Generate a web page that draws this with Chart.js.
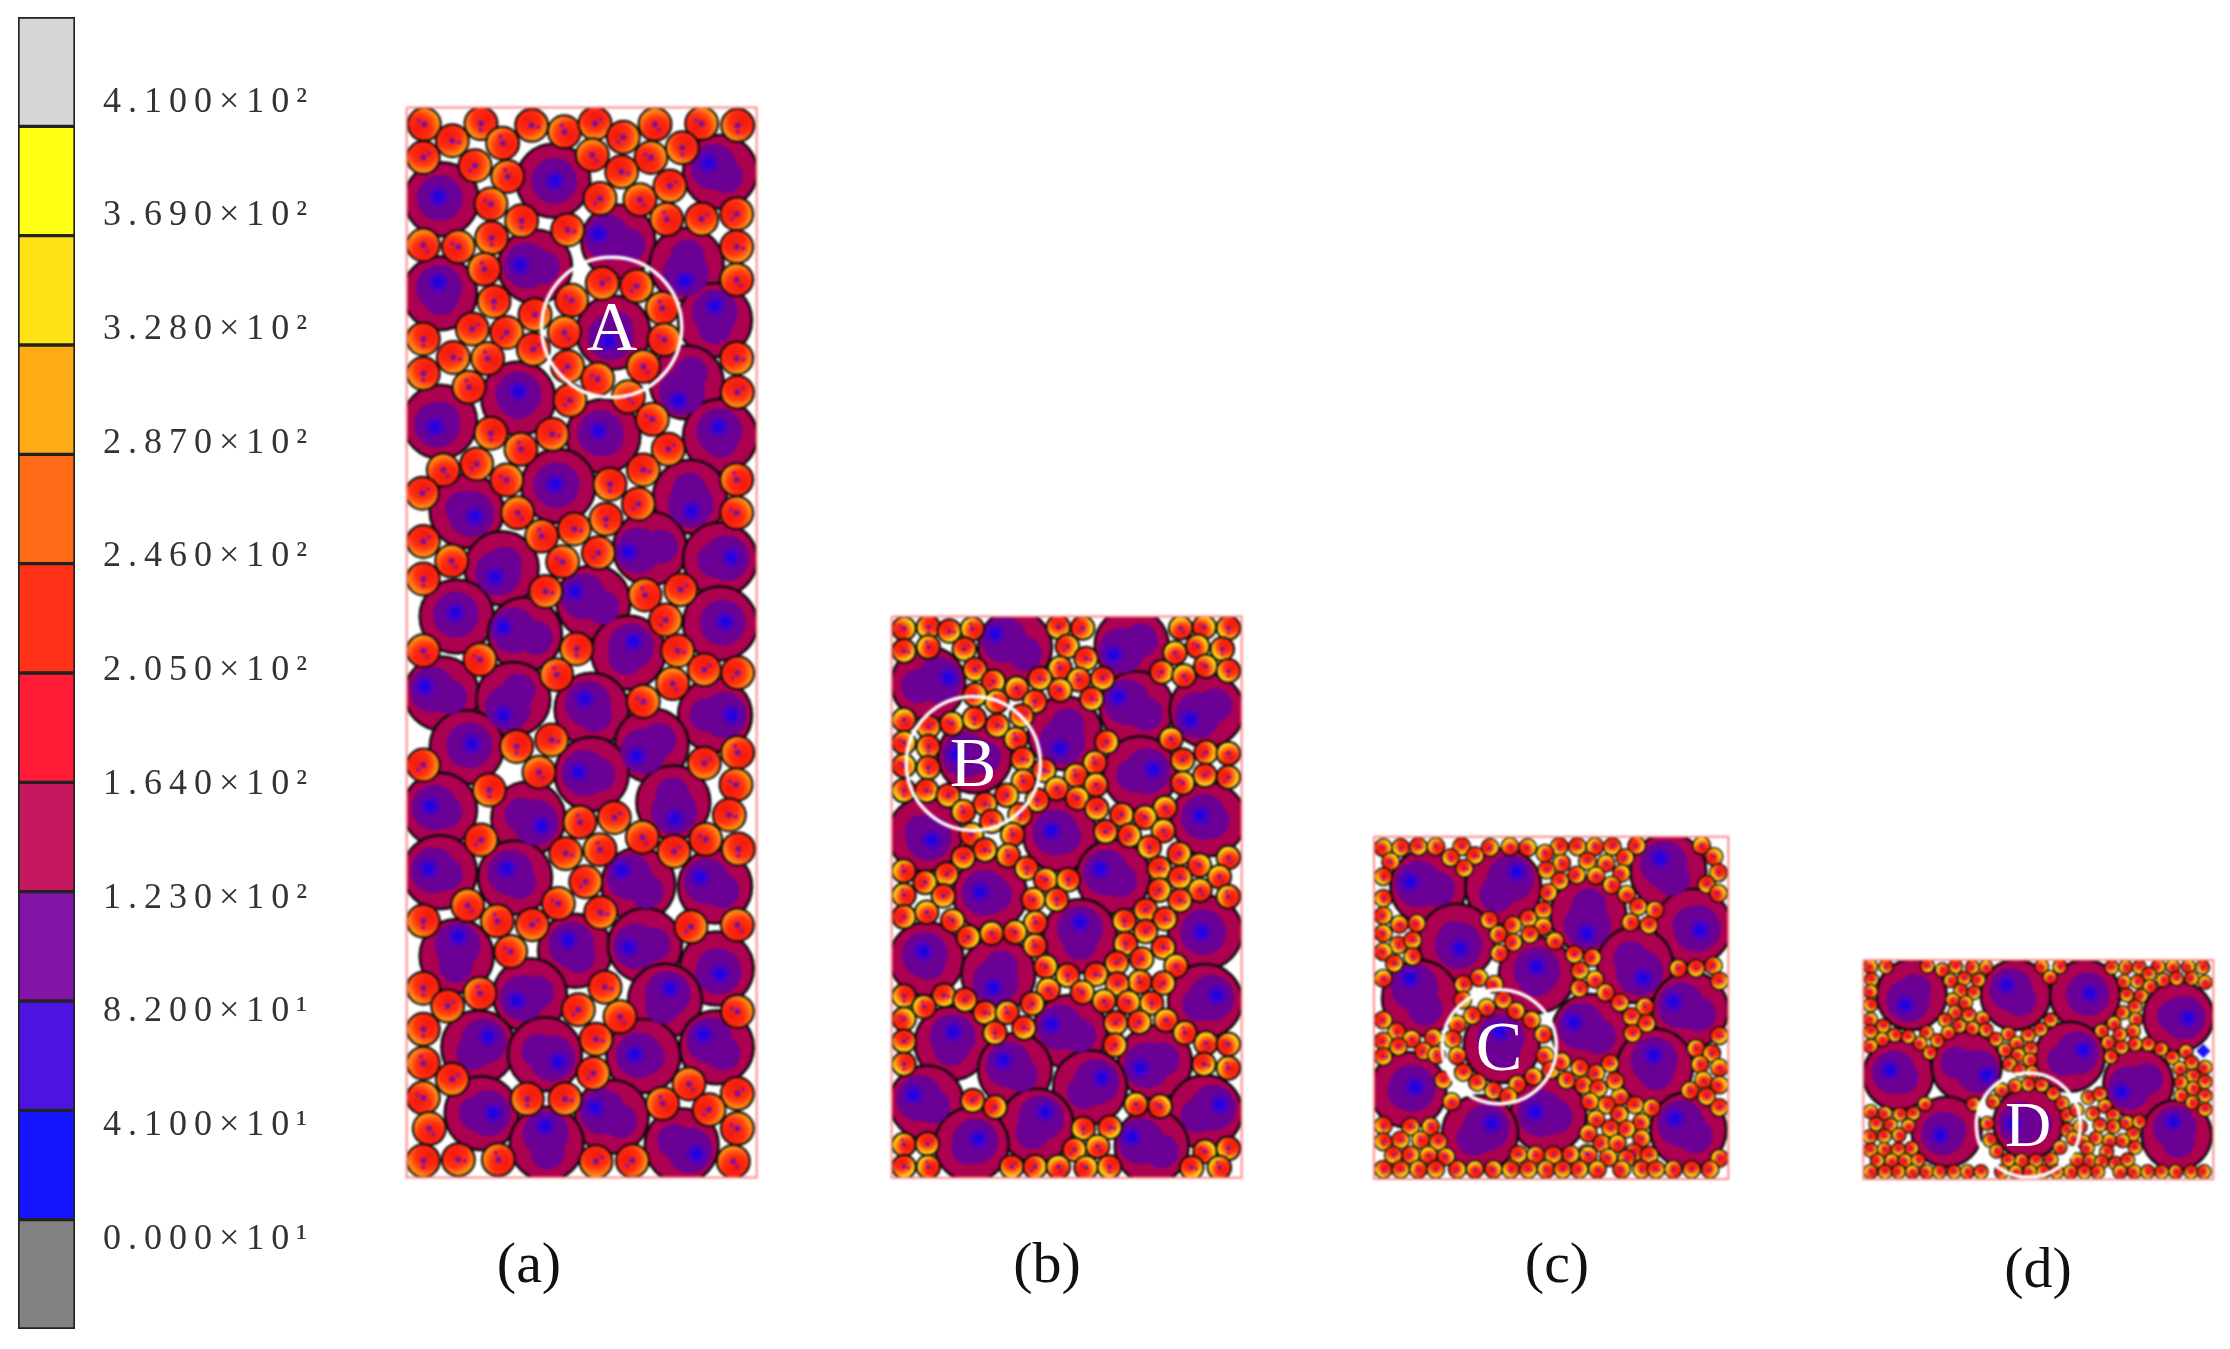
<!DOCTYPE html>
<html>
<head>
<meta charset="utf-8">
<title>Contour panels</title>
<script src="https://cdn.jsdelivr.net/npm/chart.js@4"></script>
<style>
html, body { margin: 0; background: #fff; }
#page { position: relative; width: 2230px; height: 1349px; overflow: hidden; }
canvas { position: absolute; }
.panel { filter: blur(0.8px); }
.tag { position: absolute; transform: translate(-50%, -50%); font-family: "Liberation Serif", serif; line-height: 1; white-space: nowrap; }
.tag.letter { color: #fff; }
.tag.caption { color: #111; font-size: 58px; }
</style>
</head>
<body>
<div id="page">
    <canvas id="colorbar" width="330" height="1349" style="left:0;top:0"></canvas>
    <canvas id="panel-a" class="panel" width="375" height="1105" style="left:395px;top:95px"></canvas>
    <canvas id="panel-b" class="panel" width="375" height="600" style="left:880px;top:605px"></canvas>
    <canvas id="panel-c" class="panel" width="380" height="380" style="left:1360px;top:825px"></canvas>
    <canvas id="panel-d" class="panel" width="380" height="260" style="left:1850px;top:950px"></canvas>
    <span class="tag letter" style="left:612px;top:327px;font-size:70px">A</span>
    <span class="tag letter" style="left:973px;top:763px;font-size:70px">B</span>
    <span class="tag letter" style="left:1499px;top:1047px;font-size:70px">C</span>
    <span class="tag letter" style="left:2028px;top:1125px;font-size:64px">D</span>
    <span class="tag caption" style="left:529px;top:1263px">(a)</span>
    <span class="tag caption" style="left:1047px;top:1263px">(b)</span>
    <span class="tag caption" style="left:1557px;top:1263px">(c)</span>
    <span class="tag caption" style="left:2038px;top:1268px">(d)</span>
</div>
<script>
// colour scale
const bandEdges = [451, 410, 369, 328, 287, 246, 205, 164, 123, 82, 41, 0, -41];
const bandColors = ['#d6d6d6', '#ffff14', '#ffe216', '#ffab16', '#ff6a16', '#ff3218', '#ff1a36', '#c6185f', '#8214a8', '#4c14e0', '#1414ff', '#828282'];
const tickValues = [410, 369, 328, 287, 246, 205, 164, 123, 82, 41, 0];
const tickLabels = ['4.100×10²', '3.690×10²', '3.280×10²', '2.870×10²', '2.460×10²', '2.050×10²', '1.640×10²', '1.230×10²', '8.200×10¹', '4.100×10¹', '0.000×10¹'];

// panel (a)
const bigA = [[140,292],[475,240],[975,215],[670,410],[420,480],[875,475],[135,555],[960,630],[655,665],[875,805],[370,850],[135,915],[625,955],[975,955],[490,1095],[885,1125],[215,1165],[765,1270],[975,1300],[320,1325],[595,1420],[185,1460],[975,1480],[390,1510],[700,1561],
    [140,1676],[355,1691],[590,1721],[960,1736],[215,1826],[770,1821],[590,1901],[135,2001],[400,2026],[835,1981],[360,2191],[135,2176],[730,2211],[960,2216],[540,2396],[750,2381],[185,2411],[965,2446],[405,2521],[810,2536],[250,2666],[965,2666],[745,2691],[450,2686],[260,2851],[650,2861],[455,2936],[860,2941]];
const coreA = [[130,285],[480,240],[940,190],[610,390],[375,475],[870,520],[130,525],[960,590],[640,690],[850,855],[370,830],[120,930],[610,940],[970,930],[480,1090],[890,1165],[240,1180],[700,1280],[1010,1295],[300,1350],[540,1390],[180,1450],[990,1475],[325,1490],[715,1530],
    [90,1656],[325,1736],[570,1691],[1010,1736],[230,1816],[725,1851],[550,1896],[105,1991],[440,2046],[840,2026],[335,2166],[100,2166],[680,2171],[915,2190],[520,2366],[700,2386],[190,2356],[975,2461],[365,2536],[825,2501],[280,2636],[925,2631],[720,2686],[490,2706],[295,2851],[600,2836],[450,2886],[905,2966]];
const smallA = [[88,82],[258,80],[410,85],[508,103],[600,80],[685,118],[780,82],[920,80],[1028,85],[172,128],[323,135],[85,175],[240,198],[592,168],[768,175],[862,148],[680,215],[338,228],[825,255],[615,290],[735,293],[288,305],[380,352],[518,378],[815,348],[920,347],[1025,333],[85,420],[190,425],[290,400],[1025,425],[268,488],[622,527],[725,535],[1025,517],[530,575],[297,578],[420,615],[802,597],[232,655],[335,665],[508,665],[808,685],[85,683],[175,735],[278,738],[415,712],[518,760],[745,760],[608,795],[85,780],[1025,737],[222,818],[1027,832],[525,855],[700,845],[772,908],[288,947],[472,950],[378,992],[820,992],[245,1033],[145,1050],[335,1078],[645,1090],[745,1050],[1025,1077],[82,1115],[730,1145],[368,1170],[1025,1170],[633,1188],[538,1215],[440,1235],[85,1250],[610,1282],[170,1305],[503,1307],[85,1355],[452,1390],[750,1400],[857,1385],[812,1470],
    [85,1556],[255,1581],[545,1551],[848,1556],[485,1623],[928,1609],[1028,1618],[833,1648],[745,1698],[365,1824],[470,1806],[1028,1841],[928,1871],[85,1876],[432,1896],[1023,1931],[283,1946],[1003,2016],[555,2036],[658,2023],[258,2086],[742,2078],[932,2084],[1030,2111],[512,2124],[615,2113],[837,2118],[572,2203],[218,2269],[490,2264],[85,2313],[617,2289],[307,2313],[412,2323],[888,2329],[1027,2324],[347,2398],[85,2501],[630,2498],[255,2516],[158,2551],[550,2561],[675,2581],[1027,2566],[85,2616],[603,2644],[85,2711],[172,2756],[595,2739],[882,2769],[85,2808],[397,2811],[510,2811],[803,2824],[1027,2796],[942,2841],[103,2894],[1027,2894],[85,2984],[190,2981],[310,2981],[603,2986],[712,2984],[1015,2986]];
const frameA = [[35,35],[1085,35],[1085,3031],[35,3031],[35,35]];
const ringA = [[650,650]];

// panel (b)
const bigB = [[405,110],[755,105],[145,205],[770,270],[980,275],[555,335],[285,395],[780,440],[985,560],[540,600],[135,600],[700,710],[330,755],[975,855],[600,865],[140,925],[355,965],[975,1035],[215,1145],[570,1115],[825,1195],[405,1215],[630,1260],[140,1300],[975,1325],[470,1360],[275,1410],[815,1415]];
const coreB = [[345,75],[700,130],[205,190],[715,240],[930,300],[540,375],[230,390],[820,430],[960,550],[515,590],[155,615],[660,690],[300,750],[965,855],[600,830],[130,905],[340,1000],[1010,1020],[220,1115],[515,1095],[780,1210],[370,1190],[665,1235],[100,1280],[1020,1305],[495,1325],[295,1395],[755,1390]];
const smallB = [[72,62],[145,58],[208,68],[277,62],[535,58],[608,60],[902,60],[973,58],[1045,60],[72,120],[145,110],[253,115],[562,108],[885,125],[953,108],[1027,115],[618,140],[540,165],[285,168],[845,175],[912,185],[977,160],[1045,172],[480,192],[597,195],[668,192],[340,200],[410,218],[540,222],[465,252],[635,245],[350,252],[425,290],[285,235],[72,300],[215,310],[283,297],[352,315],[408,350],[145,318],[680,358],[873,350],[72,360],[145,370],[428,402],[645,412],[908,405],[978,385],[1045,388],[72,420],[145,425],[492,432],[588,445],[975,445],[1045,450],[648,470],[908,465],[72,485],[140,485],[430,460],[205,498],[380,497],[530,480],[592,505],[472,510],[315,520],[250,540],[650,532],[725,548],[855,530],[795,555],[420,548],[335,565],[398,600],[677,592],[748,602],[850,590],[275,600],[808,633],[315,640],[385,655],[250,660],[898,650],[1045,660],[958,680],[440,688],[838,688],[72,695],[200,703],[135,725],[1018,710],[497,718],[565,718],[900,712],[72,758],[190,760],[838,745],[960,745],[460,770],[530,770],[900,772],[1045,762],[797,797],[72,815],[140,803],[218,825],[733,825],[855,820],[467,830],[797,853],[265,868],[335,858],[405,855],[737,885],[850,895],[465,890],[710,935],[785,925],[888,943],[497,945],[563,968],[648,965],[780,985],[712,990],[850,988],[505,1005],[607,1012],[72,1022],[192,1020],[132,1050],[255,1032],[457,1042],[672,1035],[745,1038],[815,1040],[315,1065],[382,1065],[707,1092],[778,1090],[858,1085],[72,1082],[345,1118],[432,1105],[915,1118],[72,1140],[705,1150],[978,1145],[1045,1148],[72,1200],[972,1200],[1045,1210],[278,1295],[345,1312],[768,1305],[840,1310],[610,1368],[690,1365],[72,1410],[142,1408],[583,1423],[653,1415],[975,1428],[1045,1420],[72,1468],[145,1468],[395,1468],[465,1468],[535,1468],[618,1470],[688,1468],[935,1470],[1018,1470]];
const frameB = [[35,30],[1085,30],[1085,1497],[35,1497],[35,30]];
const ringB = [[280,414]];

// panel (c)
const bigC = [[205,185],[430,185],[925,140],[685,270],[290,350],[1000,305],[530,450],[825,420],[180,520],[990,555],[690,620],[425,660],[885,725],[145,795],[565,870],[360,925],[985,915]];
const coreC = [[150,170],[470,140],[900,100],[680,325],[300,370],[1020,315],[530,425],[850,460],[150,460],[940,530],[640,590],[420,620],[880,690],[165,785],[525,860],[395,895],[945,880]];
const smallC = [[70,68],[122,68],[175,65],[228,65],[305,65],[390,68],[450,65],[503,68],[598,65],[652,65],[705,65],[757,65],[830,62],[1025,62],[92,110],[272,98],[345,92],[555,85],[682,108],[795,98],[738,115],[1062,95],[70,155],[313,130],[605,115],[560,135],[650,150],[708,152],[785,145],[1075,143],[600,168],[755,180],[1040,178],[565,203],[800,208],[1075,205],[70,220],[835,245],[885,255],[550,255],[70,272],[118,298],[170,295],[388,285],[505,280],[812,292],[867,300],[458,300],[550,305],[70,325],[115,360],[158,345],[415,328],[510,328],[460,352],[585,348],[70,380],[158,395],[103,415],[418,385],[643,388],[697,398],[70,460],[357,458],[310,478],[660,437],[955,430],[1008,430],[1060,422],[705,463],[403,478],[658,490],[1078,468],[737,503],[430,525],[308,525],[380,548],[468,558],[337,572],[780,533],[855,545],[815,575],[70,585],[292,597],[515,585],[110,620],[860,595],[550,628],[818,625],[70,648],[155,642],[220,638],[278,643],[1078,632],[1008,670],[115,665],[190,678],[292,692],[555,692],[1055,685],[70,695],[230,690],[250,765],[572,735],[780,815],[605,710],[660,728],[750,715],[1020,718],[310,742],[708,745],[1078,728],[520,755],[620,765],[352,772],[472,778],[765,768],[670,780],[1030,765],[1078,780],[400,797],[715,790],[990,797],[1040,815],[445,815],[275,830],[690,830],[740,840],[825,840],[875,848],[1078,848],[778,868],[708,882],[845,892],[70,902],[152,905],[212,905],[752,910],[800,912],[685,925],[845,940],[70,950],[122,945],[182,945],[235,950],[725,955],[772,955],[680,985],[822,982],[475,988],[527,990],[580,990],[632,988],[685,990],[745,998],[800,1000],[868,990],[1078,1000],[100,990],[152,990],[205,990],[258,995],[70,1033],[122,1033],[175,1033],[227,1033],[292,1033],[345,1033],[400,1033],[452,1033],[505,1033],[558,1033],[608,1033],[658,1033],[712,1033],[785,1033],[845,1033],[888,1033],[940,1033],[995,1033],[1050,1033]];
const frameC = [[42,35],[1105,35],[1105,1062],[42,1062],[42,35]];
const ringC = [[418,665]];

// panel (d)
const bigD = [[185,135],[497,135],[705,135],[985,200],[145,375],[350,350],[660,320],[865,400],[290,545],[535,520],[980,555]];
const coreD = [[165,165],[470,105],[720,130],[1015,205],[120,360],[410,375],[700,300],[815,425],[270,555],[490,520],[970,515]];
const smallD = [[62,50],[108,50],[232,48],[277,60],[317,50],[367,52],[408,52],[575,50],[630,50],[785,52],[827,52],[868,52],[925,50],[968,50],[1015,50],[1058,52],[65,88],[302,92],[343,85],[385,90],[600,82],[822,95],[862,95],[897,72],[940,90],[980,85],[1025,85],[1065,97],[62,125],[332,122],[372,128],[900,110],[830,135],[873,138],[308,150],[347,158],[62,165],[855,170],[315,188],[357,195],[818,188],[398,205],[62,208],[285,210],[603,210],[858,208],[100,228],[328,228],[792,220],[368,235],[408,240],[572,238],[755,243],[62,245],[230,248],[295,248],[850,243],[135,255],[175,260],[475,252],[535,255],[810,253],[97,268],[210,280],[262,272],[438,268],[775,278],[895,282],[855,282],[500,280],[62,288],[240,308],[815,292],[465,300],[543,295],[933,297],[1008,305],[505,315],[783,320],[967,322],[540,330],[1025,338],[478,342],[990,355],[1065,352],[1030,378],[510,362],[547,368],[1065,395],[993,397],[455,420],[495,408],[535,403],[575,405],[1030,415],[610,430],[370,462],[225,462],[430,455],[715,442],[750,432],[993,437],[1065,437],[637,460],[62,485],[105,490],[150,493],[190,490],[1027,458],[1065,478],[652,495],[765,468],[680,480],[728,490],[790,495],[412,520],[78,522],[122,525],[175,528],[830,518],[868,515],[652,540],[690,530],[750,525],[790,530],[670,565],[700,575],[60,560],[103,558],[147,555],[850,552],[738,565],[778,572],[818,572],[420,570],[62,600],[103,598],[145,598],[185,595],[630,592],[712,595],[770,605],[855,592],[440,603],[797,640],[82,632],[125,632],[165,632],[205,630],[475,630],[515,632],[558,632],[603,628],[682,630],[720,632],[755,635],[833,630],[62,665],[105,665],[145,665],[187,665],[230,665],[268,665],[312,665],[352,665],[393,665],[455,665],[497,665],[540,665],[580,665],[620,665],[662,665],[703,665],[743,665],[810,665],[853,665],[893,665],[935,665],[977,665],[1023,665],[1062,665]];
const frameD = [[40,30],[1090,30],[1090,688],[40,688],[40,30]];
const ringD = [[535,525]];
const gemD = [[1060,303]];

const toPoints = list => list.map(([x, y]) => ({ x, y }));
// point part way from the grain centre to its core (negative: away from it)
const towards = (a, b, t) => a.map(([x, y], i) => ({ x: x + (b[i][0] - x) * t, y: y + (b[i][1] - y) * t }));

// yellow side of the small grains moves round from grain to grain
const hotSides = [[0.7, -0.5], [-0.6, 0.6], [0.5, 0.7], [-0.7, -0.4], [0, 0.8], [0.8, 0.2], [-0.3, -0.8]];

function grainFill(radius, reach, unitsX, unitsY) {
    return ctx => {
        if (!ctx.raw || ctx.raw.x === undefined) return '#ff5a12';
        const side = hotSides[ctx.dataIndex % hotSides.length];
        const px = ctx.raw.x * ctx.chart.width / unitsX - side[0] * radius * 0.5;
        const py = ctx.raw.y * ctx.chart.height / unitsY - side[1] * radius * 0.5;
        const g = ctx.chart.ctx.createRadialGradient(px, py, 0, px, py, radius * reach);
        g.addColorStop(0, '#f0180e');
        g.addColorStop(0.45, '#ff2e10');
        g.addColorStop(0.66, '#ff7012');
        g.addColorStop(0.84, '#ffb414');
        g.addColorStop(1, '#fff014');
        return g;
    };
}

function makePanel(id, unitsX, unitsY, p) {
    const canvas = document.getElementById(id);
    const [[fx0, fy0], , [fx1, fy1]] = p.frame;
    // everything inside the panel stops at the red frame, so edge particles come out flattened
    const inFrame = {
        left: -fx0 * canvas.width / unitsX, right: -(unitsX - fx1) * canvas.width / unitsX,
        top: -fy0 * canvas.height / unitsY, bottom: -(unitsY - fy1) * canvas.height / unitsY
    };
    const layer = (data, radius, fill, extra) => Object.assign({
        data, pointRadius: radius, pointBackgroundColor: fill,
        pointBorderWidth: 0, pointHoverRadius: radius, clip: inFrame
    }, extra);

    const dotShift = p.small.map(([x, y], i) => ({
        x: x + hotSides[(i + 3) % hotSides.length][0] * p.smallR * 1.5,
        y: y + hotSides[(i + 3) % hotSides.length][1] * p.smallR * 1.4
    }));

    // last in the list is painted on top
    const stack = [
        layer(toPoints(p.big), p.bigR, '#ac0050', { pointBorderColor: '#0a0a0a', pointBorderWidth: 2.5 }),
        layer(towards(p.big, p.core, 0.55), p.bigR * 0.62, '#6a0094'),
        layer(towards(p.big, p.core, -0.5), p.bigR * 0.46, '#6a0094'),
        layer(toPoints(p.core), p.bigR * 0.27, '#4c00c0'),
        layer(toPoints(p.core), p.bigR * 0.14, '#2200e0'),
        layer(toPoints(p.small), p.smallR, grainFill(p.smallR, p.reach, unitsX, unitsY), { pointBorderColor: '#0a0a0a', pointBorderWidth: p.grainEdge }),
        layer(toPoints(p.small), p.smallR * 0.18, '#7a10a0'),
        layer(dotShift, p.smallR * 0.13, '#a01090'),
    ];
    if (p.gem) stack.push(layer(toPoints(p.gem), 7, '#1414ff', { pointStyle: 'rectRot' }));
    stack.push({ data: toPoints(p.frame), showLine: true, borderColor: '#ff8a8a', borderWidth: 2, pointRadius: 0, clip: false });
    stack.push({ data: toPoints(p.ring), pointRadius: p.ringR, pointBackgroundColor: 'rgba(0,0,0,0)',
        pointBorderColor: '#ffffff', pointBorderWidth: 3.5, clip: false });

    new Chart(canvas, {
        type: 'scatter',
        data: { datasets: stack.reverse() },
        options: {
            responsive: false, animation: false, devicePixelRatio: 1, events: [],
            layout: { padding: 0, autoPadding: false },
            plugins: { legend: { display: false }, tooltip: { enabled: false } },
            scales: {
                x: { type: 'linear', display: false, min: 0, max: unitsX },
                y: { type: 'linear', display: false, min: 0, max: unitsY, reverse: true }
            }
        }
    });
}

makePanel('panel-a', 1125, 3094, { big: bigA, core: coreA, small: smallA, frame: frameA, ring: ringA, bigR: 37, smallR: 16.5, grainEdge: 2, reach: 1.7, ringR: 70 });
makePanel('panel-b', 1125, 1568, { big: bigB, core: coreB, small: smallB, frame: frameB, ring: ringB, bigR: 37, smallR: 11.8, grainEdge: 2, reach: 1.3, ringR: 67 });
makePanel('panel-c', 1140, 1140, { big: bigC, core: coreC, small: smallC, frame: frameC, ring: ringC, bigR: 38, smallR: 8.8, grainEdge: 1.5, reach: 1.25, ringR: 57 });
makePanel('panel-d', 1140, 780, { big: bigD, core: coreD, small: smallD, frame: frameD, ring: ringD, gem: gemD, bigR: 35, smallR: 7, grainEdge: 1.4, reach: 1.25, ringR: 52 });

// colour scale: one floating bar per band, labels on a right-hand axis
new Chart(document.getElementById('colorbar'), {
    type: 'bar',
    data: {
        labels: [''],
        datasets: bandColors.map((color, i) => ({
            data: [[bandEdges[i + 1], bandEdges[i]]],
            backgroundColor: color, borderColor: '#222', borderWidth: 2,
            borderSkipped: false, barPercentage: 1, categoryPercentage: 1, grouped: false
        }))
    },
    options: {
        responsive: false, animation: false, devicePixelRatio: 1, events: [],
        layout: { padding: { top: 17, bottom: 20, left: 18, right: 0 }, autoPadding: false },
        plugins: { legend: { display: false }, tooltip: { enabled: false } },
        scales: {
            x: { display: false },
            y: { display: false, min: -41, max: 451 },
            labelAxis: {
                position: 'right', min: -32.4, max: 440.75, border: { display: false },
                grid: { display: false, drawTicks: false },
                afterFit: axis => { axis.width = 255; axis.paddingTop = 0; axis.paddingBottom = 0; },
                afterBuildTicks: axis => { axis.ticks = tickValues.map(value => ({ value })); },
                ticks: {
                    padding: 28, crossAlign: 'near', autoSkip: false, color: '#333',
                    font: { family: '"Liberation Serif", serif', size: 36 },
                    callback: value => tickLabels[tickValues.indexOf(value)]
                }
            }
        }
    },
    plugins: [{ id: 'wideDigits', beforeDraw: chart => { chart.ctx.letterSpacing = '7px'; } }]
});
</script>
</body>
</html>
